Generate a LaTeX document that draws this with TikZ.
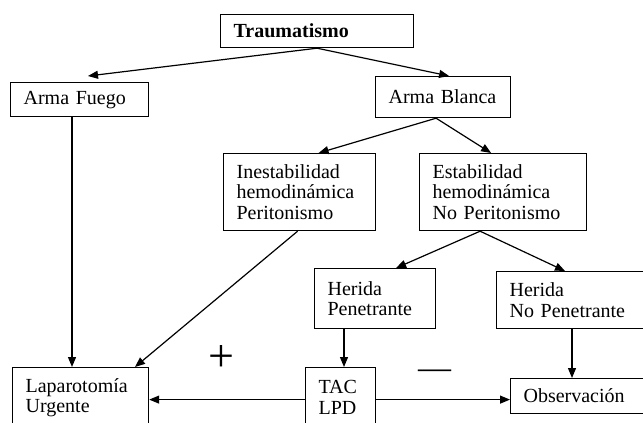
\documentclass[tikz,border=0pt]{standalone}
\usepackage{fontspec}
\setmainfont{Liberation Serif}
\usetikzlibrary{arrows.meta,calc}
\begin{document}
\begin{tikzpicture}[x=1pt,y=-1pt,
  box/.style={draw, line width=1.2pt, rectangle, inner xsep=13pt, inner ysep=0pt,
    align=left, anchor=north west, font=\fontsize{20}{20.5}\selectfont},
  conn/.style={line width=1.2pt, -{Triangle[length=10pt,width=8pt]}}]
\useasboundingbox (0,0) rectangle (643,423);
\node[box, text width=167pt, minimum height=33pt] (T)  at (220,14)  {\textbf{Traumatismo}};
\node[box, text width=112pt, minimum height=34pt] (AF) at (10,82)   {Arma Fuego};
\node[box, text width=109pt, minimum height=41pt] (AB) at (375,76)  {Arma Blanca};
\node[box, text width=126pt, minimum height=77pt] (IN) at (223,153) {Inestabilidad\\hemodinámica\\Peritonismo};
\node[box, text width=141pt, minimum height=77pt] (ES) at (419,153) {Estabilidad\\hemodinámica\\No Peritonismo};
\node[box, text width=95pt,  minimum height=60pt] (HP) at (314,268) {Herida\\Penetrante};
\node[box, text width=138pt, minimum height=57pt] (NP) at (496,271) {Herida\\No Penetrante};
\node[box, text width=110pt, minimum height=60pt] (LA) at (12,367)  {Laparotomía\\Urgente};
\node[box, text width=44pt,  minimum height=60pt] (TA) at (305,367) {TAC\\LPD};
\node[box, text width=124pt, minimum height=35pt] (OB) at (510,378) {Observación};
\node[font=\fontsize{46}{46}\selectfont, inner sep=0pt, anchor=center] (plus) at (221,359) {+};
\node[font=\fontsize{33}{33}\selectfont, inner sep=0pt, anchor=base] (minus) at (434.5,378) {—};
% connectors
\draw[conn] (T.south) -- ([xshift=78pt,yshift=6pt]AF.north west);
\draw[conn] (T.south) -- ([xshift=6pt]AB.north);
\draw[conn] ([xshift=-7pt]AB.south) -- ([xshift=19pt]IN.north);
\draw[conn] ([xshift=-7pt]AB.south) -- ([xshift=-12pt]ES.north);
\draw[conn] ([xshift=-2pt]IN.south) -- ([xshift=123pt]LA.north west);
\draw[conn] ([xshift=-23pt]ES.south) -- ([xshift=21pt]HP.north);
\draw[conn] ([xshift=-23pt]ES.south) -- ([xshift=69pt]NP.north west);
\draw[conn] ([xshift=62pt]AF.south west) -- ([xshift=62pt]AF.south west |- LA.north);
\draw[conn] ([xshift=30pt]HP.south west) -- ([xshift=30pt]HP.south west |- TA.north);
\draw[conn] ([xshift=76pt]NP.south west) -- ([xshift=76pt]NP.south west |- OB.north);
\draw[conn] ([yshift=-2pt]TA.west) -- ([yshift=-2pt]TA.west -| LA.east);
\draw[conn] ([yshift=-2pt]TA.east) -- ([yshift=-2pt]TA.east -| OB.west);
\end{tikzpicture}
\end{document}
